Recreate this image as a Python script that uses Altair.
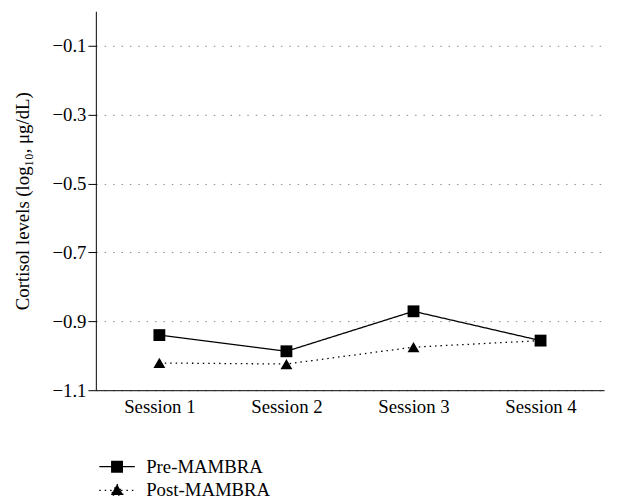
import altair as alt
import pandas as pd

sessions = ["Session 1", "Session 2", "Session 3", "Session 4"]
pre = [-0.940, -0.987, -0.871, -0.956]
post = [-1.021, -1.024, -0.975, -0.956]
groups = ["Pre-MAMBRA", "Post-MAMBRA"]
markers = ["sq", "tri"]
y_ticks = [-1.1, -0.9, -0.7, -0.5, -0.3, -0.1]

rows = []
for g, m, vals in zip(groups, markers, [pre, post]):
    for s, v in zip(sessions, vals):
        rows.append({"session": s, "value": v, "group": g, "marker": m})
df = pd.DataFrame(rows)

FONT = "Liberation Serif"
FS = 19

x = alt.X("session:N", sort=sessions, title=None,
          scale=alt.Scale(type="point", padding=0.5),
          axis=alt.Axis(labelAngle=0, ticks=False, domainColor="black",
                        labelFontSize=FS, labelPadding=8, labelColor="black",
                        grid=False))
y = alt.Y("value:Q", title="Cortisol levels (log₁₀, μg/dL)",
          scale=alt.Scale(domain=[-1.1, 0], nice=False, zero=False),
          axis=alt.Axis(values=y_ticks, format=".1f", tickSize=8,
                        tickColor="black", domainColor="black",
                        labelFontSize=FS, labelColor="black", labelPadding=2,
                        titleFontSize=FS, titleFontWeight="normal",
                        titleColor="black", titlePadding=20,
                        grid=True, gridColor="#888888", gridDash=[1.5, 7],
                        gridWidth=1))

pre_sym = "M-3,0H3M-0.9,-0.9H0.9V0.9H-0.9Z"
post_sym = "M-3,0H3M0,-1.05L1.05,0.8H-1.05Z"

lines = alt.Chart(df).mark_line(color="black", strokeWidth=1.3).encode(
    x=x, y=y,
    strokeDash=alt.StrokeDash(
        "group:N", sort=groups, title=None,
        scale=alt.Scale(domain=groups, range=[[1, 0], [1.5, 4]]),
        legend=alt.Legend(
            orient="none", legendX=12, legendY=452, direction="vertical",
            symbolSize=144, symbolStrokeColor="black", symbolFillColor="black",
            symbolStrokeWidth=1.3, labelFontSize=FS, labelColor="black",
            labelOffset=20, rowPadding=4,
            symbolType=alt.ExprRef(expr=f"datum.value == 'Pre-MAMBRA' ? '{pre_sym}' : '{post_sym}'"),
        )),
    detail="group:N",
)

points = alt.Chart(df).mark_point(filled=True, opacity=1, color="black").encode(
    x=x, y=y,
    shape=alt.Shape("marker:N", sort=markers,
                    scale=alt.Scale(domain=markers, range=["square", "triangle-up"]),
                    legend=None),
    size=alt.value(144),
)

chart = alt.layer(lines, points).properties(
    width=515, height=384,
    autosize=alt.AutoSizeParams(type="none"),
    padding={"left": 89, "top": 0, "right": 7, "bottom": 110},
).configure(font=FONT).configure_view(stroke=None)

chart.save("out.html", embed_options={"renderer": "svg", "actions": False})
